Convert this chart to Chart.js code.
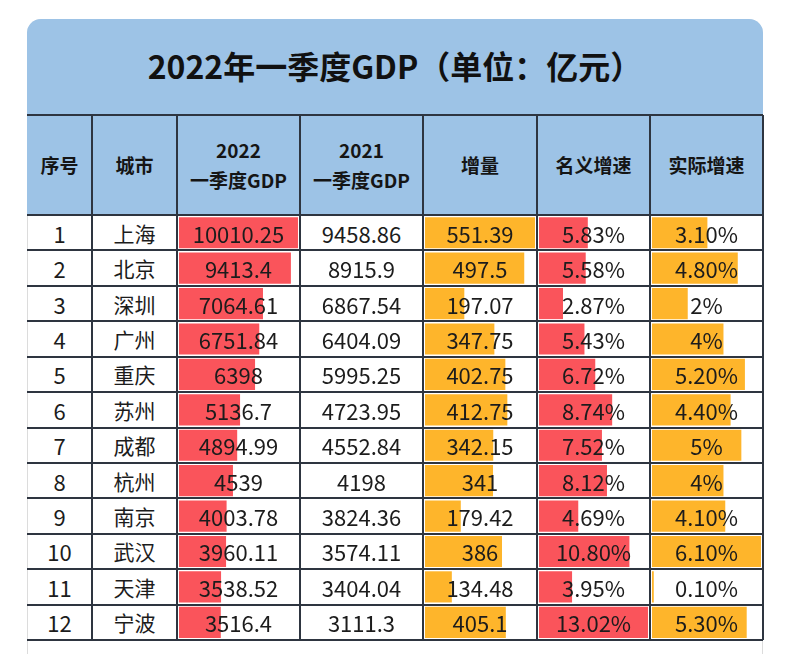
<!DOCTYPE html>
<html>
<head>
<meta charset="utf-8">
<script src="https://cdn.jsdelivr.net/npm/chart.js@4.4.0/dist/chart.umd.min.js"></script>
<style>
  html, body { margin: 0; padding: 0; background: #ffffff; }
  #wrap { position: relative; width: 803px; height: 654px; overflow: hidden; background: #ffffff;
          font-family: "Noto Sans CJK SC", "Noto Sans", sans-serif; color: #1c1c1c; }
  .abs { position: absolute; }
  .cell { position: absolute; display: flex; align-items: center; justify-content: center; text-align: center; z-index: 3; white-space: nowrap; }
  .hdr { font-weight: 700; font-size: 19px; line-height: 30px; color: #151515; }
  .dat { font-size: 22px; }
  .city { font-size: 21px; }
  canvas { position: absolute; z-index: 1; }
  .line { position: absolute; z-index: 4; }
</style>
</head>
<body>
<div id="wrap"></div>
<script>
// ---------------- data ----------------
const title = "2022年一季度GDP（单位：亿元）";
const headers = ["序号", "城市", "2022<br>一季度GDP", "2021<br>一季度GDP", "增量", "名义增速", "实际增速"];
const ranks = [1, 2, 3, 4, 5, 6, 7, 8, 9, 10, 11, 12];
const cities = ["上海", "北京", "深圳", "广州", "重庆", "苏州", "成都", "杭州", "南京", "武汉", "天津", "宁波"];
const gdp2022 = [10010.25, 9413.4, 7064.61, 6751.84, 6398, 5136.7, 4894.99, 4539, 4003.78, 3960.11, 3538.52, 3516.4];
const gdp2021 = [9458.86, 8915.9, 6867.54, 6404.09, 5995.25, 4723.95, 4552.84, 4198, 3824.36, 3574.11, 3404.04, 3111.3];
const increase = [551.39, 497.5, 197.07, 347.75, 402.75, 412.75, 342.15, 341, 179.42, 386, 134.48, 405.1];
const nominalGrowth = [5.83, 5.58, 2.87, 5.43, 6.72, 8.74, 7.52, 8.12, 4.69, 10.80, 3.95, 13.02];
const realGrowth = [3.10, 4.80, 2, 4, 5.20, 4.40, 5, 4, 4.10, 6.10, 0.10, 5.30];

// ---------------- layout ----------------
const COLS = [27, 92, 177, 300, 423, 537, 650, 763];
const CARD_TOP = 19, TITLE_BOTTOM = 115, HEADER_BOTTOM = 215, BODY_BOTTOM = 640;
const ROW_H = (BODY_BOTTOM - HEADER_BOTTOM) / ranks.length;
const BLUE = "#9dc3e6", RED = "#fa545b", ORANGE = "#feb52b", LINE = "#2e3540";

const wrap = document.getElementById("wrap");
function el(cls, css, html) {
  const d = document.createElement("div");
  d.className = cls;
  Object.assign(d.style, css);
  if (html !== undefined) d.innerHTML = html;
  wrap.appendChild(d);
  return d;
}
const px = v => v + "px";

// card with rounded top corners
el("abs", { left: px(COLS[0]), top: px(CARD_TOP), width: px(COLS[7] - COLS[0]), height: px(700),
  border: "1px solid #dcdcdc", borderRadius: "14px", background: "#fff", boxSizing: "border-box" });
// title band + header background
el("abs", { left: px(COLS[0]), top: px(CARD_TOP), width: px(COLS[7] - COLS[0]), height: px(HEADER_BOTTOM - CARD_TOP),
  background: BLUE, borderRadius: "14px 14px 0 0" });
// title
el("cell", { left: px(COLS[0]), top: px(CARD_TOP - 2), width: px(COLS[7] - COLS[0]), height: px(TITLE_BOTTOM - CARD_TOP),
  fontSize: "32px", fontWeight: "700", color: "#111" }, title);

// headers
headers.forEach((h, i) => {
  el("cell hdr", { left: px(COLS[i]), top: px(TITLE_BOTTOM), width: px(COLS[i + 1] - COLS[i]),
    height: px(HEADER_BOTTOM - TITLE_BOTTOM) }, h);
});

// bar columns via Chart.js
function fmtPct(v) { return (Number.isInteger(v) ? v : v.toFixed(2)) + "%"; }
const barCols = [
  { col: 2, values: gdp2022, color: RED },
  { col: 4, values: increase, color: ORANGE },
  { col: 5, values: nominalGrowth, color: RED },
  { col: 6, values: realGrowth, color: ORANGE }
];
barCols.forEach(bc => {
  const c = document.createElement("canvas");
  const w = COLS[bc.col + 1] - COLS[bc.col] - 4;
  const h = BODY_BOTTOM - HEADER_BOTTOM;
  c.width = w; c.height = h;
  c.style.left = px(COLS[bc.col] + 2); c.style.top = px(HEADER_BOTTOM);
  c.style.width = px(w); c.style.height = px(h);
  wrap.appendChild(c);
  new Chart(c, {
    type: "bar",
    data: { labels: cities, datasets: [{ data: bc.values, backgroundColor: bc.color, borderWidth: 0,
      barPercentage: 0.88, categoryPercentage: 1 }] },
    options: {
      responsive: false, animation: false, devicePixelRatio: 1, indexAxis: "y",
      layout: { padding: 0 },
      plugins: { legend: { display: false }, tooltip: { enabled: false } },
      scales: {
        x: { display: false, min: 0, max: Math.max(...bc.values) },
        y: { display: false }
      }
    }
  });
});

// body text
const colTexts = [
  ranks.map(String),
  cities,
  gdp2022.map(String),
  gdp2021.map(String),
  increase.map(String),
  nominalGrowth.map(v => v.toFixed(2) + "%"),
  realGrowth.map(fmtPct)
];
colTexts.forEach((arr, ci) => {
  arr.forEach((t, ri) => {
    el(ci === 1 ? "cell city" : "cell dat", { left: px(COLS[ci]), top: px(HEADER_BOTTOM + ri * ROW_H), width: px(COLS[ci + 1] - COLS[ci]),
      height: px(ROW_H) }, t);
  });
});

// grid lines
el("line", { left: px(COLS[0]), top: px(TITLE_BOTTOM - 1), width: px(COLS[7] - COLS[0]), height: "2px", background: LINE });
for (let r = 0; r <= ranks.length; r++) {
  const y = HEADER_BOTTOM + r * ROW_H;
  el("line", { left: px(COLS[0]), top: px(y - 1), width: px(COLS[7] - COLS[0]), height: "2px", background: LINE });
}
for (let i = 1; i < COLS.length; i++) {
  el("line", { left: px(COLS[i] - 1), top: px(TITLE_BOTTOM), width: "2px", height: px(BODY_BOTTOM - TITLE_BOTTOM), background: LINE });
}
</script>
</body>
</html>
